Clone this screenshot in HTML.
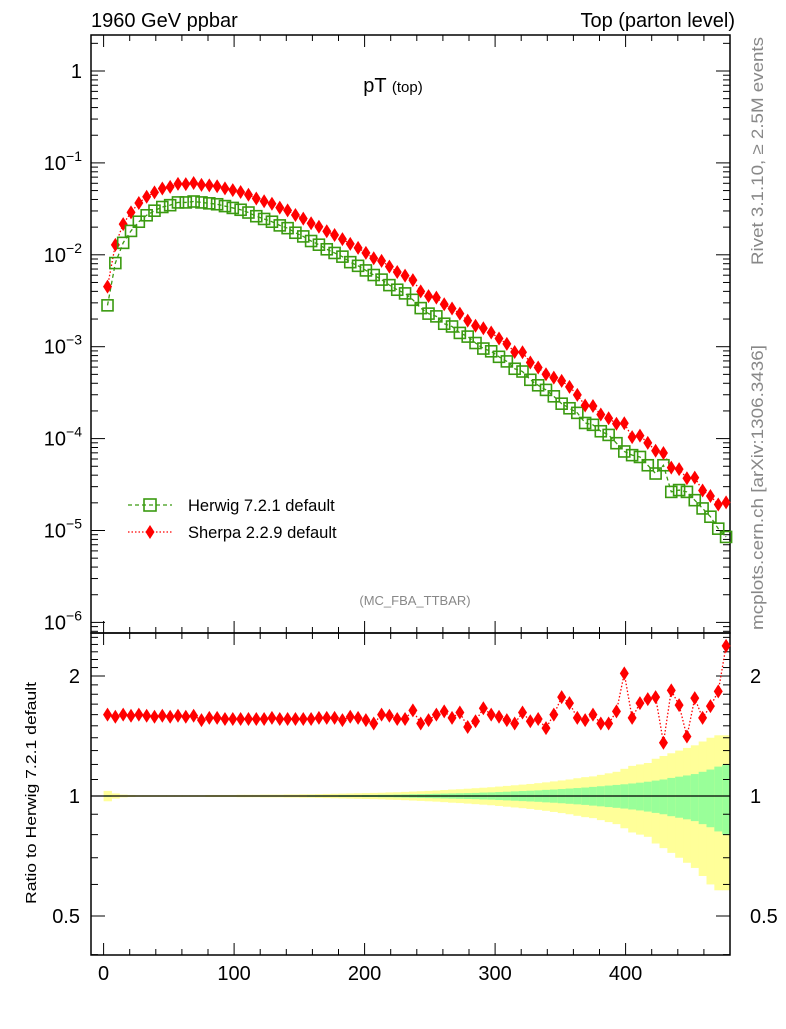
<!DOCTYPE html>
<html><head><meta charset="utf-8"><style>
body{margin:0;background:#fff;}
svg{font-family:"Liberation Sans",sans-serif;}
</style></head><body>
<svg id="c" width="786" height="1024" xmlns="http://www.w3.org/2000/svg">
<text x="91" y="27" font-size="20">1960 GeV ppbar</text>
<text x="735" y="27" font-size="20" text-anchor="end">Top (parton level)</text>
<text x="393" y="92" font-size="20" text-anchor="middle">pT <tspan font-size="15">(top)</tspan></text>
<text x="415" y="605" font-size="13" fill="#888" text-anchor="middle">(MC_FBA_TTBAR)</text>
<text transform="translate(763,265) rotate(-90)" font-size="17" fill="#888" textLength="228" lengthAdjust="spacingAndGlyphs">Rivet 3.1.10, ≥ 2.5M events</text>
<text transform="translate(763,630) rotate(-90)" font-size="17" fill="#888" textLength="285" lengthAdjust="spacingAndGlyphs">mcplots.cern.ch [arXiv:1306.3436]</text>
<text transform="translate(36,793) rotate(-90)" font-size="15" text-anchor="middle" textLength="222" lengthAdjust="spacingAndGlyphs">Ratio to Herwig 7.2.1 default</text>
<g>
<g>
<line x1="128" y1="505" x2="172" y2="505" stroke="#3a9a10" stroke-width="1.3" stroke-dasharray="4,3"/>
<rect x="144" y="499" width="12" height="12" fill="none" stroke="#3a9a10" stroke-width="1.6"/>
<text x="188" y="511" font-size="16.5">Herwig 7.2.1 default</text></g>
<g>
<line x1="128" y1="532" x2="172" y2="532" stroke="red" stroke-width="1.3" stroke-dasharray="1.5,2"/>
<polygon points="150,525 154.5,532 150,539 145.5,532" fill="red"/>
<text x="188" y="538" font-size="16.5">Sherpa 2.2.9 default</text></g>
</g>
<g id="g"></g>
</svg>
<script>
const binCenters=[];for(let i=0;i<80;i++)binCenters.push(3+6*i);
const herwigLog=[-2.55,-2.09,-1.87,-1.74,-1.64,-1.57,-1.52,-1.48,-1.46,-1.43,-1.43,-1.42,-1.43,-1.44,-1.45,-1.47,-1.49,-1.51,-1.54,-1.58,-1.61,-1.64,-1.68,-1.71,-1.76,-1.80,-1.85,-1.89,-1.94,-1.98,-2.02,-2.08,-2.12,-2.17,-2.22,-2.27,-2.33,-2.38,-2.42,-2.49,-2.58,-2.64,-2.67,-2.75,-2.78,-2.85,-2.89,-2.96,-3.02,-3.05,-3.11,-3.16,-3.24,-3.27,-3.36,-3.42,-3.47,-3.54,-3.62,-3.67,-3.72,-3.83,-3.85,-3.92,-3.96,-4.05,-4.14,-4.18,-4.20,-4.29,-4.38,-4.29,-4.58,-4.56,-4.58,-4.67,-4.76,-4.85,-4.98,-5.07];
const ratioVals=[1.60,1.58,1.60,1.59,1.60,1.59,1.58,1.59,1.58,1.59,1.58,1.59,1.55,1.57,1.57,1.56,1.56,1.56,1.56,1.56,1.56,1.57,1.56,1.56,1.56,1.56,1.56,1.57,1.57,1.57,1.55,1.58,1.57,1.55,1.52,1.60,1.59,1.56,1.56,1.64,1.52,1.55,1.60,1.63,1.57,1.62,1.49,1.54,1.66,1.60,1.58,1.55,1.52,1.62,1.54,1.56,1.48,1.60,1.77,1.71,1.57,1.55,1.60,1.52,1.52,1.63,2.03,1.57,1.71,1.75,1.77,1.36,1.84,1.69,1.41,1.76,1.57,1.68,1.83,2.38];
const greenErr=[0.004,0.002,0.002,0.002,0.002,0.002,0.002,0.002,0.002,0.002,0.002,0.002,0.002,0.002,0.002,0.002,0.002,0.002,0.002,0.002,0.003,0.003,0.003,0.003,0.003,0.003,0.004,0.004,0.004,0.004,0.005,0.005,0.005,0.006,0.006,0.007,0.007,0.008,0.009,0.010,0.011,0.012,0.013,0.014,0.015,0.016,0.017,0.018,0.020,0.021,0.023,0.025,0.027,0.029,0.031,0.033,0.036,0.038,0.041,0.044,0.047,0.050,0.054,0.058,0.062,0.066,0.070,0.075,0.080,0.086,0.093,0.100,0.110,0.118,0.126,0.135,0.150,0.165,0.185,0.200];
const yellowErr=[0.03,0.015,0.008,0.006,0.005,0.005,0.005,0.005,0.005,0.005,0.005,0.005,0.005,0.006,0.006,0.006,0.006,0.007,0.007,0.007,0.008,0.008,0.008,0.009,0.009,0.010,0.010,0.011,0.012,0.013,0.014,0.015,0.016,0.017,0.018,0.019,0.021,0.022,0.024,0.026,0.028,0.030,0.032,0.035,0.038,0.040,0.043,0.046,0.049,0.052,0.056,0.060,0.064,0.068,0.072,0.077,0.082,0.088,0.094,0.100,0.108,0.115,0.120,0.130,0.140,0.150,0.170,0.190,0.200,0.210,0.240,0.260,0.280,0.300,0.320,0.340,0.370,0.400,0.420,0.420];
const mainTicks=[0,-1,-2,-3,-4,-5,-6];
const ratioTicks=[2,1,0.5];
const xTicks=[0,100,200,300,400];

const NS="http://www.w3.org/2000/svg";
const g=document.getElementById('g');
const L=91,R=730,MT=35,MB=633,RB=955;
const X=v=>103.6+v*1.305;
const Y=lg=>71-lg*91.9;
const YR=r=>796-120*Math.log2(r);
function mk(t,a,p){const e=document.createElementNS(NS,t);for(const k in a)e.setAttribute(k,a[k]);(p||g).appendChild(e);return e;}

for(let i=0;i<80;i++){
 const x0=X(binCenters[i]-3),w=X(binCenters[i]+3)-x0;
 let e=mk('rect',{x:x0,y:YR(1+yellowErr[i]),width:w+0.5,height:YR(Math.max(0.05,1-yellowErr[i]))-YR(1+yellowErr[i]),fill:'#ffff99'});
 
 
 e=mk('rect',{x:x0,y:YR(1+greenErr[i]),width:w+0.5,height:YR(1-greenErr[i])-YR(1+greenErr[i]),fill:'#99ff99'});
 
 
}
let ln=mk('line',{x1:L,y1:YR(1),x2:R,y2:YR(1),stroke:'#000','stroke-width':1.3});



let f=mk('rect',{x:L,y:MT,width:R-L,height:MB-MT,fill:'none',stroke:'#000','stroke-width':1.5});


f=mk('rect',{x:L,y:MB,width:R-L,height:RB-MB,fill:'none',stroke:'#000','stroke-width':1.5});



for(let v=0;v<=480;v+=20){
 const big=v%100===0,len=big?12:6;
 for(const yb of [MB,RB]){mk('line',{x1:X(v),y1:yb,x2:X(v),y2:yb-len,stroke:'#000'});}
 mk('line',{x1:X(v),y1:MB,x2:X(v),y2:MB+len,stroke:'#000'});
 mk('line',{x1:X(v),y1:MT,x2:X(v),y2:MT+len,stroke:'#000'});
}
xTicks.forEach(v=>{const t=mk('text',{x:X(v),y:980,'font-size':20,'text-anchor':'middle'});t.textContent=v;

});

for(let d=1;d>=-7;d--){for(let m=1;m<10;m++){const lg=d+Math.log10(m);const y=Y(lg);if(y<MT||y>MB)continue;const len=m===1?14:7;
 mk('line',{x1:L,y1:y,x2:L+len,y2:y,stroke:'#000'});mk('line',{x1:R,y1:y,x2:R-len,y2:y,stroke:'#000'});}}
mainTicks.forEach(d=>{const t=mk('text',{x:82,y:Y(d)+7,'font-size':20,'text-anchor':'end'});
 if(d===0)t.textContent='1';else{t.textContent='10';const s=mk('tspan',{dy:-9,'font-size':14},t);s.textContent=String(d).replace('-','−');}
 
 });

for(let r=0.4;r<=2.6;r+=0.1){const y=YR(r);if(y<MB||y>RB)continue;const big=Math.abs(r-1)<1e-6||Math.abs(r-2)<1e-6||Math.abs(r-0.5)<1e-6;const len=big?14:7;
 mk('line',{x1:L,y1:y,x2:L+len,y2:y,stroke:'#000'});mk('line',{x1:R,y1:y,x2:R-len,y2:y,stroke:'#000'});}
ratioTicks.forEach(r=>{let t=mk('text',{x:80,y:YR(r)+7,'font-size':20,'text-anchor':'end'});t.textContent=r;
 
 
 t=mk('text',{x:750,y:YR(r)+7,'font-size':20});t.textContent=r;
 
 });

const hp=binCenters.map((c,i)=>X(c)+','+Y(herwigLog[i])).join(' ');
const sp=binCenters.map((c,i)=>X(c)+','+Y(herwigLog[i]+Math.log10(ratioVals[i]))).join(' ');
const rp=binCenters.map((c,i)=>X(c)+','+YR(ratioVals[i])).join(' ');
let p=mk('polyline',{points:hp,fill:'none',stroke:'#3a9a10','stroke-width':1.3,'stroke-dasharray':'4,3'});


p=mk('polyline',{points:sp,fill:'none',stroke:'red','stroke-width':1.3,'stroke-dasharray':'1.5,2'});


p=mk('polyline',{points:rp,fill:'none',stroke:'red','stroke-width':1.3,'stroke-dasharray':'1.5,2'});



binCenters.forEach((c,i)=>{
 const x=X(c),yh=Y(herwigLog[i]),ys=Y(herwigLog[i]+Math.log10(ratioVals[i])),yr=YR(ratioVals[i]);
 let e=mk('rect',{x:x-5.5,y:yh-5.5,width:11,height:11,fill:'none',stroke:'#3a9a10','stroke-width':1.6});
 
 
 e=mk('polygon',{points:`${x},${ys-7} ${x+4.5},${ys} ${x},${ys+7} ${x-4.5},${ys}`,fill:'red'});
 
 
 e=mk('polygon',{points:`${x},${yr-7} ${x+4.5},${yr} ${x},${yr+7} ${x-4.5},${yr}`,fill:'red'});
 
 
});
</script>
</body></html>
